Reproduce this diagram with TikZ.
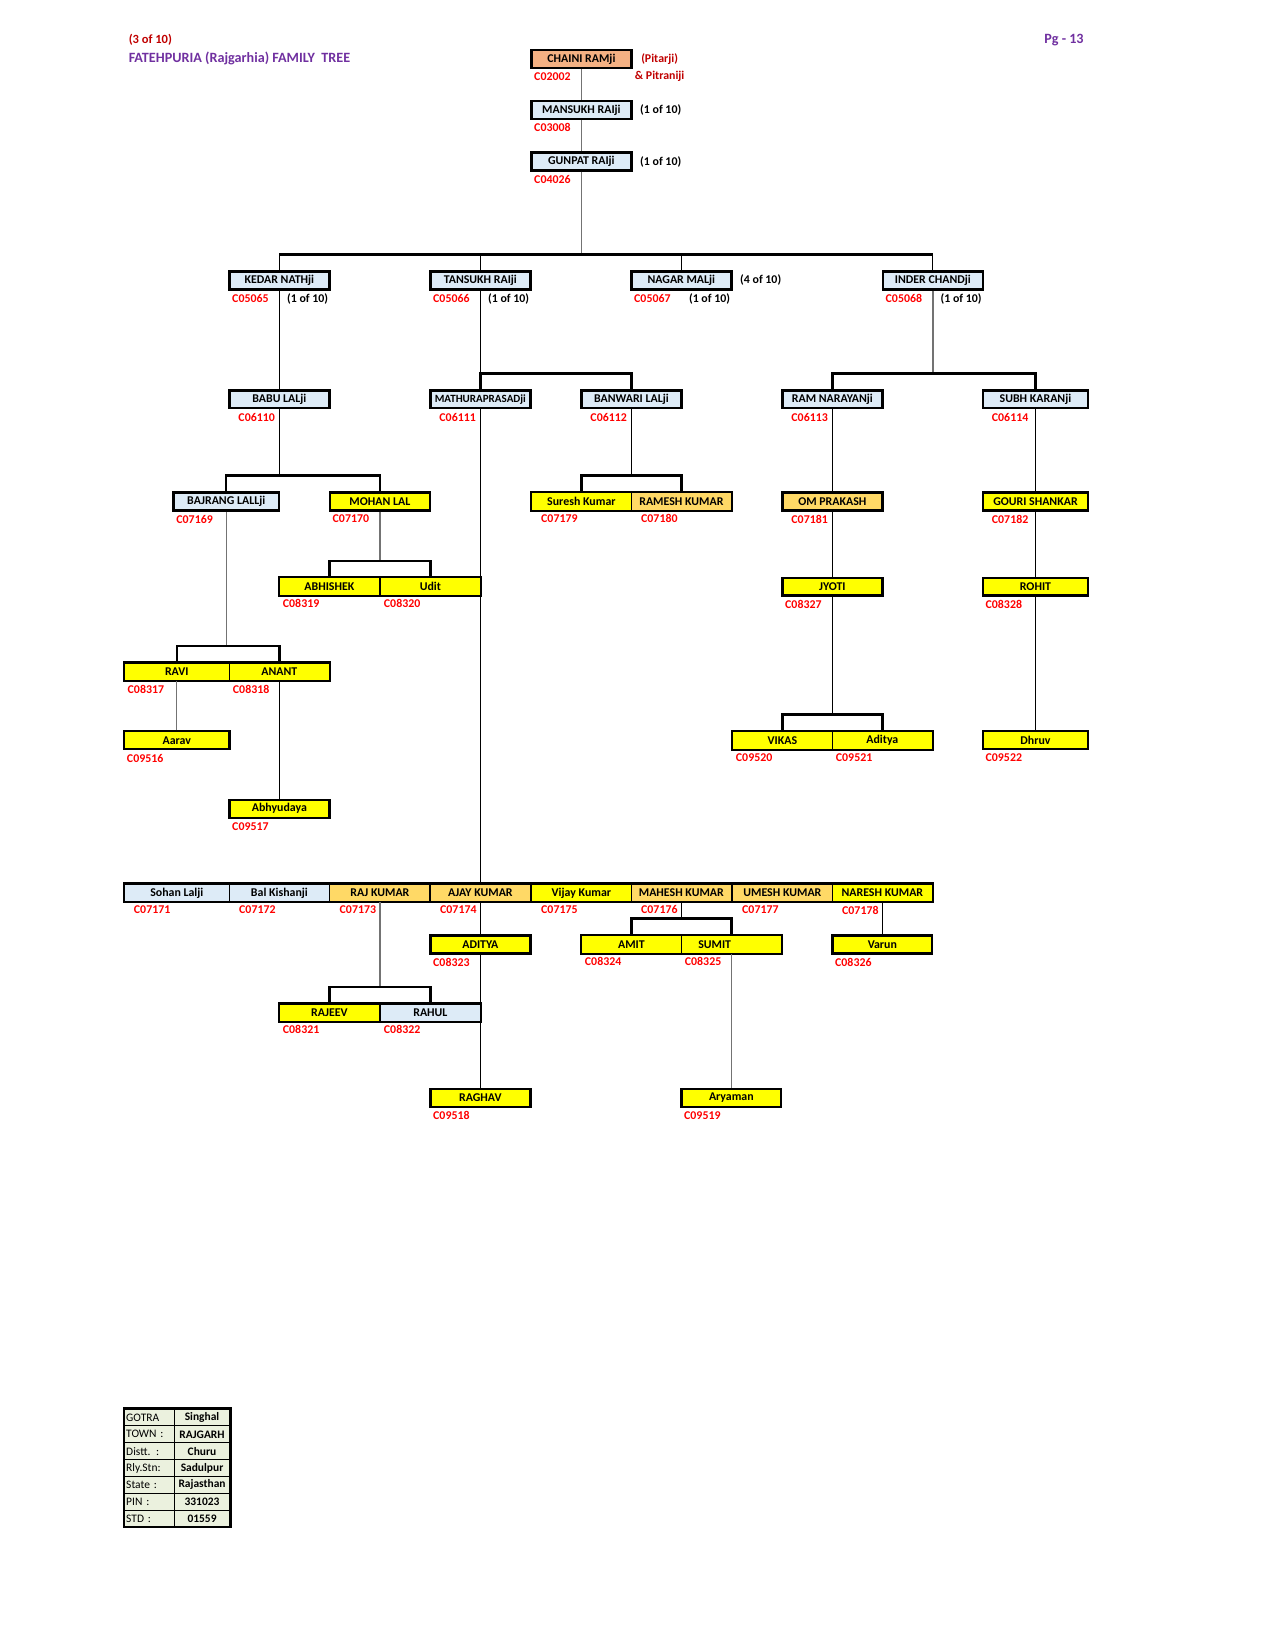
\documentclass[tikz,border=0pt]{standalone}
\usepackage{fontspec}
\setmainfont{Carlito}
\usetikzlibrary{positioning}

\definecolor{boxblue}{HTML}{DDEBF7}
\definecolor{boxyellow}{HTML}{FFFF00}
\definecolor{boxgold}{HTML}{FFD966}
\definecolor{boxsalmon}{HTML}{F4B183}
\definecolor{tablegreen}{HTML}{EBF1DE}
\definecolor{codered}{HTML}{FF0000}
\definecolor{darkred}{HTML}{C00000}
\definecolor{titlepurple}{HTML}{7030A0}

\newcommand{\boxfont}{\fontsize{5.7}{6}\selectfont\bfseries}
\newcommand{\headfont}{\fontsize{6.8}{8}\selectfont\bfseries}

\tikzset{
  person/.style={draw, line width=1.1pt, minimum width=47.97pt, minimum height=8.6pt, inner sep=0pt, font=\boxfont},
  wide/.style={minimum width=50.5pt},
  inrow/.style={line width=0.4pt},
  blu/.style={fill=boxblue},
  yel/.style={fill=boxyellow},
  gold/.style={fill=boxgold},
  code/.style={font=\boxfont, text=codered, inner sep=0.5pt},
  note/.style={font=\boxfont, inner sep=0.5pt},
  link/.style={line width=0.5pt},
  glink/.style={line width=0.6pt, black!55},
  bar/.style={line width=1.2pt},
  outline/.style={line width=1.1pt},
  tkey/.style={draw, line width=0.4pt, fill=tablegreen, text width=22pt, align=left, minimum height=8.08pt, inner sep=1pt, font=\fontsize{5.5}{6}\selectfont},
  tval/.style={draw, line width=0.4pt, fill=tablegreen, text width=24.8pt, align=center, minimum height=8.08pt, inner sep=1pt, font=\fontsize{5.5}{6}\selectfont\bfseries}
}

\begin{document}
\begin{tikzpicture}[x=0.50495pt, y=-0.50495pt]
\useasboundingbox (0,0) rectangle (1212,1568);

% heading
\node[anchor=west, inner sep=0.5pt, text=darkred, font=\fontsize{6}{7}\selectfont\bfseries] (part) at (121,38) {(3 of 10)};
\node[anchor=west, inner sep=0.5pt, text=titlepurple, font=\headfont] (title) at (121,56) {FATEHPURIA (Rajgarhia) FAMILY\ \ TREE};
\node[anchor=west, inner sep=0.5pt, text=titlepurple, font=\headfont] (page) at (991,38) {Pg - 13};

% first three generations
\node[person, fill=boxsalmon] (chaini) at (552.5,56) {CHAINI RAMji};
\node[person, blu] (mansukh) at (552.5,104.5) {MANSUKH RAIji};
\node[person, blu] (gunpat) at (552.5,153.5) {GUNPAT RAIji};

\node[note, text=darkred, right=3.5pt of chaini] (pitarji) {(Pitarji)};
\node[note, text=darkred, below=2pt of pitarji] (pitraniji) {\& Pitraniji};
\node[note, right=3pt of mansukh] (nmansukh) {(1 of 10)};
\node[note, right=3pt of gunpat] (ngunpat) {(1 of 10)};

% generation 5
\node[person, blu] (kedar) at (265.5,266.5) {KEDAR NATHji};
\node[person, blu] (tansukh) at (456.5,266.5) {TANSUKH RAIji};
\node[person, blu] (nagar) at (647.5,266.5) {NAGAR MALji};
\node[person, blu] (inder) at (886.5,266.5) {INDER CHANDji};
\node[note, right=3pt of nagar] (nnagar) {(4 of 10)};
\foreach \n in {kedar,tansukh,nagar,inder}
    \node[note, below right=1pt and 3pt of \n.south] (o\n) {(1 of 10)};

% generation 6
\node[person, blu] (babu) at (265.5,379.5) {BABU LALji};
\node[person, blu] (mathura) at (456.5,379.5) {\fontsize{5.3}{6}\selectfont MATHURAPRASADji};
\node[person, blu] (banwari) at (600,379.5) {BANWARI LALji};
\node[person, blu] (ramn) at (791,379.5) {RAM NARAYANji};
\node[person, blu, wide] (subh) at (984,379.5) {SUBH KARANji};

% generation 7
\node[person, blu, wide] (bajrang) at (215,476.5) {BAJRANG LALLji};
\node[person, yel] (mohan) at (361,476.5) {MOHAN LAL};
\node[person, yel, inrow] (suresh) at (552.5,476.5) {Suresh Kumar};
\node[person, gold, inrow] (ramesh) at (647.5,476.5) {RAMESH KUMAR};
\node[person, gold] (omp) at (791,476.5) {OM PRAKASH};
\node[person, yel, wide] (gouri) at (984,476.5) {GOURI SHANKAR};

% generation 8
\node[person, yel, inrow] (abhishek) at (313,557.5) {ABHISHEK};
\node[person, yel, inrow] (udit) at (409,557.5) {Udit};
\node[person, yel] (jyoti) at (791,557.5) {JYOTI};
\node[person, yel, wide] (rohit) at (984,557.5) {ROHIT};

\node[person, yel, wide, inrow] (ravi) at (168,638.5) {RAVI};
\node[person, yel, inrow] (anant) at (265.5,638.5) {ANANT};

% generation 9
\node[person, yel, wide] (aarav) at (168,703.5) {Aarav};
\node[person, yel, inrow] (vikas) at (743.5,703.5) {VIKAS};
\node[person, yel, inrow] (adityav) at (838.5,703.5) {Aditya};
\node[person, yel, wide] (dhruv) at (984,703.5) {Dhruv};
\node[person, yel] (abhy) at (265.5,768.5) {Abhyudaya};

% sons of MATHURAPRASADji
\node[person, blu, wide, inrow] (sohan) at (168,848.5) {Sohan Lalji};
\node[person, blu, inrow] (bal) at (265.5,848.5) {Bal Kishanji};
\node[person, gold, inrow] (raj) at (361,848.5) {RAJ KUMAR};
\node[person, gold, inrow] (ajay) at (456.5,848.5) {AJAY KUMAR};
\node[person, yel, inrow] (vijay) at (552.5,848.5) {Vijay Kumar};
\node[person, gold, inrow] (mahesh) at (647.5,848.5) {MAHESH KUMAR};
\node[person, gold, inrow] (umesh) at (743.5,848.5) {UMESH KUMAR};
\node[person, yel, inrow] (naresh) at (838.5,848.5) {NARESH KUMAR};

\node[person, yel] (adityaj) at (456.5,897.5) {ADITYA};
\node[person, yel, inrow] (amit) at (600,897.5) {AMIT};
\node[person, yel, inrow] (sumit) at (695,897.5) {SUMIT\hspace*{16pt}};
\node[person, yel] (varun) at (838.5,897.5) {Varun};

\node[person, yel, inrow] (rajeev) at (313,962.5) {RAJEEV};
\node[person, blu, inrow] (rahul) at (409,962.5) {RAHUL};

\node[person, yel] (raghav) at (456.5,1043.5) {RAGHAV};
\node[person, yel] (aryaman) at (695,1043.5) {Aryaman};

% outlines of the joined rows
\foreach \a/\b in {suresh/ramesh, abhishek/udit, ravi/anant, vikas/adityav, amit/sumit, rajeev/rahul, sohan/naresh}
    \draw[outline] (\a.north west) rectangle (\b.south east);

% codes
\foreach \n/\c in {chaini/C02002, mansukh/C03008, gunpat/C04026, kedar/C05065, tansukh/C05066, nagar/C05067, inder/C05068,
    bajrang/C07169, mohan/C07170, abhishek/C08319, udit/C08320, jyoti/C08327, rohit/C08328, ravi/C08317, anant/C08318,
    aarav/C09516, abhy/C09517, vikas/C09520, adityav/C09521, dhruv/C09522, adityaj/C08323, amit/C08324, sumit/C08325,
    varun/C08326, rajeev/C08321, rahul/C08322, raghav/C09518, aryaman/C09519}
    \node[code, below right=1pt and 1.2pt of \n.south west] (c\n) {\c};
\foreach \n/\c in {babu/C06110, mathura/C06111, banwari/C06112, ramn/C06113, subh/C06114, suresh/C07179, ramesh/C07180,
    omp/C07181, gouri/C07182, sohan/C07171, bal/C07172, raj/C07173, ajay/C07174, vijay/C07175, mahesh/C07176,
    umesh/C07177, naresh/C07178}
    \node[code, below right=1pt and 4.2pt of \n.south west] (c\n) {\c};

% junctions
\coordinate (j5) at (552.5,242);
\coordinate (j6t) at (456.5,355);
\coordinate (j6i) at (886.5,355);
\coordinate (j7b) at (265.5,452);
\coordinate (j7w) at (600,452);
\coordinate (j8m) at (361,533);
\coordinate (j9b) at (215,614);
\coordinate (j9j) at (791,679);
\coordinate (j10m) at (647.5,873);
\coordinate (j11r) at (361,938);

% connectors
\draw[glink] (chaini) -- (mansukh);
\draw[glink] (mansukh) -- (gunpat);
\draw[glink] (gunpat) -- (j5);
\draw[bar] (kedar.north |- j5) -- (inder.north |- j5);
\foreach \n in {kedar,tansukh,nagar,inder}
    \draw[link] (\n) -- (\n |- j5);

\draw[link] (kedar) -- (babu);
\draw[link] (tansukh) -- (j6t);
\draw[bar] (mathura.north) |- (j6t) -| (banwari.north);
\draw[glink] (inder) -- (j6i);
\draw[bar] (ramn.north) |- (j6i) -| (subh.north);

\draw[link] (babu) -- (j7b);
\draw[bar] (bajrang.north) |- (j7b) -| (mohan.north);
\draw[link] (banwari) -- (j7w);
\draw[bar] (suresh.north) |- (j7w) -| (ramesh.north);
\draw[link] (ramn) -- (omp);
\draw[link] (subh) -- (gouri);

\draw[glink] (mohan) -- (j8m);
\draw[bar] (abhishek.north) |- (j8m) -| (udit.north);
\draw[link] (omp) -- (jyoti);
\draw[link] (gouri) -- (rohit);

\draw[glink] (bajrang) -- (j9b);
\draw[bar] (ravi.north) |- (j9b) -| (anant.north);
\draw[link] (jyoti) -- (j9j);
\draw[bar] (vikas.north) |- (j9j) -| (adityav.north);
\draw[link] (rohit) -- (dhruv);
\draw[glink] (ravi) -- (aarav);
\draw[link] (anant) -- (abhy);

\draw[link] (mathura) -- (ajay);
\draw[link] (ajay) -- (adityaj);
\draw[link] (adityaj) -- (raghav);
\draw[link] (mahesh) -- (j10m);
\draw[bar] (amit.north) |- (j10m) -| (sumit.north);
\draw[link] (naresh) -- (varun);
\draw[glink] (raj) -- (j11r);
\draw[bar] (rajeev.north) |- (j11r) -| (rahul.north);
\draw[glink] (sumit) -- (aryaman);

% place table
\foreach \k/\v [count=\i] in {GOTRA/Singhal, TOWN :/RAJGARH, Distt. :/Churu, Rly.Stn:/Sadulpur, State :/Rajasthan, PIN :/331023, STD :/01559}
{
    \node[tkey] (k\i) at (141.75,1331+16*\i) {\k};
    \node[tval] (v\i) at (192,1331+16*\i) {\v};
}
\draw[outline] (k1.north west) rectangle (v7.south east);

\end{tikzpicture}
\end{document}
